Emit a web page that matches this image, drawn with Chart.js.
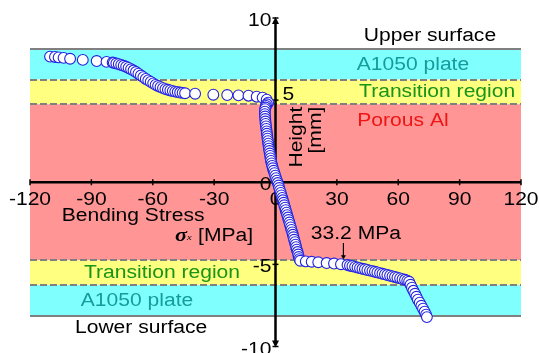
<!DOCTYPE html>
<html>
<head>
<meta charset="utf-8">
<script src="https://cdn.jsdelivr.net/npm/chart.js@4.4.1/dist/chart.umd.min.js"></script>
<style>
  body { margin: 0; background: #ffffff; }
  canvas { display: block; }
</style>
</head>
<body>
<canvas id="chart_stress" width="539" height="353"></canvas>
<script>
// axis ranges and ticks
var xTicks = [-120, -90, -60, -30, 0, 30, 60, 90, 120];
var yTicks = [-10, -5, 0, 5, 10];

// layer boundaries (height in mm)
var layerTop    = [8.12, 6.25, 4.75, -4.75, -6.25];
var layerBottom = [6.25, 4.75, -4.75, -6.25, -8.12];
var layerColor  = ['#80ffff', '#ffff80', '#ff9595', '#ffff80', '#80ffff'];
var surfaces = [8.12, -8.12];
var interfaces = [6.25, 4.75, -4.75, -6.25];

// stress marked with the arrow
var markStress = 33.2;

// upper plate + upper transition region
var upperStress = [
  -110.2, -107.8, -106.0, -103.6, -100.4, -94.2, -87.4, -82.6, -79.6,
  -79.0, -77.8, -76.6, -75.4, -74.2, -73.0, -71.8, -70.6, -69.4, -68.2,
  -67.0, -65.8, -64.6, -63.4, -62.2, -61.0, -59.8, -58.6, -57.4, -56.2,
  -55.0, -53.8, -52.6, -51.4, -50.2, -49.0, -47.8, -46.6, -45.4, -44.2,
  -39.3, -30.4, -23.6, -18.1, -13.2, -9.2, -6.3, -4.3, -3.6
];
var upperHeight = [
  7.65, 7.63, 7.60, 7.57, 7.52, 7.45, 7.38, 7.33, 7.29,
  7.27, 7.23, 7.19, 7.14, 7.09, 7.03, 6.96, 6.88, 6.80, 6.71,
  6.61, 6.50, 6.40, 6.29, 6.20, 6.11, 6.02, 5.93, 5.86, 5.79,
  5.73, 5.67, 5.63, 5.59, 5.55, 5.52, 5.49, 5.46, 5.44, 5.42,
  5.39, 5.33, 5.31, 5.29, 5.27, 5.21, 5.15, 5.03, 4.85
];

// porous Al core
var coreStress = [
  -4.2, -4.6, -4.9, -5.1, -5.2, -5.2, -5.1, -5.0, -4.9, -4.8,
  -4.6, -4.5, -4.3, -4.2, -4.0, -3.9, -3.7, -3.5, -3.4, -3.2,
  -3.0, -2.8, -2.6, -2.4, -2.2, -1.9, -1.6, -1.3, -0.9, -0.5,
  -0.1, 0.3, 0.7, 1.1, 1.5, 1.8, 2.2, 2.6, 2.9, 3.3,
  3.6, 4.0, 4.3, 4.7, 5.0, 5.4, 5.7, 6.1, 6.4, 6.8,
  7.1, 7.5, 7.8, 8.2, 8.5, 8.8, 9.1, 9.5, 9.8, 10.1,
  10.4, 10.8, 11.1, 11.4, 11.7, 12.1
];
var coreHeight = [
  4.75, 4.65, 4.55, 4.45, 4.30, 4.15, 4.00, 3.85, 3.70, 3.55,
  3.40, 3.25, 3.10, 2.95, 2.80, 2.65, 2.50, 2.35, 2.20, 2.05,
  1.90, 1.75, 1.60, 1.45, 1.30, 1.15, 1.00, 0.85, 0.70, 0.55,
  0.40, 0.25, 0.10, -0.05, -0.20, -0.35, -0.50, -0.65, -0.80, -0.95,
  -1.10, -1.25, -1.40, -1.55, -1.70, -1.85, -2.00, -2.15, -2.30, -2.45,
  -2.60, -2.75, -2.90, -3.05, -3.20, -3.35, -3.50, -3.65, -3.80, -3.95,
  -4.10, -4.25, -4.40, -4.55, -4.68, -4.78
];

// lower transition region + lower plate
var lowerStress = [
  14.8, 17.7, 20.9, 25.0, 28.6, 32.0, 35.2,
  36.4, 37.6, 38.9, 40.1, 41.3, 42.5, 43.7, 44.9, 46.2, 47.4, 48.6, 49.8,
  51.1, 52.3, 53.5, 54.7, 56.0, 57.2, 58.4, 59.6, 60.9, 62.1, 63.3, 64.4, 65.3,
  66.0, 66.7, 67.4, 68.2, 68.9, 69.6, 70.5, 71.3, 72.1, 72.9, 73.6, 74.0
];
var lowerHeight = [
  -4.82, -4.84, -4.87, -4.92, -4.95, -4.99, -5.04,
  -5.08, -5.11, -5.15, -5.19, -5.23, -5.27, -5.30, -5.34, -5.38, -5.41, -5.45, -5.49,
  -5.53, -5.57, -5.61, -5.65, -5.69, -5.73, -5.77, -5.81, -5.85, -5.90, -5.94, -5.99, -6.06,
  -6.24, -6.42, -6.61, -6.79, -6.97, -7.15, -7.33, -7.52, -7.70, -7.88, -8.06, -8.21
];

var FONT = '"Liberation Sans", Arial, sans-serif';
var STRETCH = 1.17;

function buildPoints(){
    var pts = [];
    var sx = upperStress.concat(coreStress).concat(lowerStress);
    var sy = upperHeight.concat(coreHeight).concat(lowerHeight);
    for (var i = 0; i < sx.length; i++) {
        pts.push({x: sx[i], y: sy[i]});
    }
    return pts;
}

// text a bit wider than the font, like the original figure
function wideText(ctx, txt, x, y, align, color, font, rot){
    ctx.save();
    ctx.translate(x, y);
    if (rot) ctx.rotate(rot);
    ctx.scale(STRETCH, 1);
    ctx.font = font || ('18px ' + FONT);
    ctx.textAlign = align || 'left';
    ctx.textBaseline = 'alphabetic';
    ctx.fillStyle = color || '#000000';
    ctx.fillText(txt, 0, 0);
    ctx.restore();
}

function hLine(ctx, xs, ys, v, dashed){
    var y = Math.round(ys.getPixelForValue(v));
    ctx.save();
    ctx.strokeStyle = '#808080';
    ctx.lineWidth = 2;
    if (dashed) ctx.setLineDash([7, 3]);
    ctx.beginPath();
    ctx.moveTo(xs.getPixelForValue(-120), y);
    ctx.lineTo(xs.getPixelForValue(120), y);
    ctx.stroke();
    ctx.restore();
}

var layerPlugin = {
    id: 'layers',
    beforeDatasetsDraw: function(chart){
        var ctx = chart.ctx;
        var xs = chart.scales.x, ys = chart.scales.y;
        var left = xs.getPixelForValue(-120), right = xs.getPixelForValue(120);

        // coloured layers
        for (var i = 0; i < layerTop.length; i++) {
            var t = ys.getPixelForValue(layerTop[i]);
            var b = ys.getPixelForValue(layerBottom[i]);
            ctx.fillStyle = layerColor[i];
            ctx.fillRect(left, t, right - left, b - t);
        }
        surfaces.forEach(function(v){ hLine(ctx, xs, ys, v, false); });
        interfaces.forEach(function(v){ hLine(ctx, xs, ys, v, true); });

        // layer names
        var X = function(v){ return xs.getPixelForValue(v); };
        var Y = function(v){ return ys.getPixelForValue(v); };
        wideText(ctx, 'Upper surface', X(75.5), Y(8.6), 'center', '#000000');
        wideText(ctx, 'A1050 plate', X(67.2), Y(6.85), 'center', '#149c9c');
        wideText(ctx, 'Transition region', X(79), Y(5.2), 'center', '#189418');
        wideText(ctx, 'Porous Al', X(62.3), Y(3.45), 'center', '#f01414');
        wideText(ctx, 'Transition region', X(-55.5), Y(-5.82), 'center', '#189418');
        wideText(ctx, 'A1050 plate', X(-67.7), Y(-7.52), 'center', '#149c9c');
        wideText(ctx, 'Lower surface', X(-65.7), Y(-9.2), 'center', '#000000');

        // axes
        var x0 = X(0), y0 = Y(0);
        ctx.save();
        ctx.strokeStyle = '#000000';
        ctx.fillStyle = '#000000';
        ctx.lineWidth = 2.5;
        ctx.beginPath();
        ctx.moveTo(left, y0);
        ctx.lineTo(right, y0);
        ctx.stroke();
        ctx.lineWidth = 1.5;
        xTicks.forEach(function(v){
            ctx.beginPath();
            ctx.moveTo(X(v), y0 - 3);
            ctx.lineTo(X(v), y0 + 3);
            ctx.stroke();
        });
        var top = Y(10), bottom = Y(-10);
        ctx.lineWidth = 2.5;
        ctx.beginPath();
        ctx.moveTo(x0, top + 3);
        ctx.lineTo(x0, bottom - 3);
        ctx.stroke();
        // arrow heads
        ctx.beginPath();
        ctx.moveTo(x0, top - 1); ctx.lineTo(x0 - 3.5, top + 6); ctx.lineTo(x0 + 3.5, top + 6);
        ctx.closePath(); ctx.fill();
        ctx.beginPath();
        ctx.moveTo(x0, bottom + 1); ctx.lineTo(x0 - 3.5, bottom - 6); ctx.lineTo(x0 + 3.5, bottom - 6);
        ctx.closePath(); ctx.fill();
        ctx.lineWidth = 1.5;
        yTicks.forEach(function(v){
            ctx.beginPath();
            ctx.moveTo(x0 - 3, Y(v));
            ctx.lineTo(x0 + 3, Y(v));
            ctx.stroke();
        });
        ctx.restore();

        // tick labels
        xTicks.forEach(function(v){
            wideText(ctx, String(v), X(v), y0 + 23, 'center', '#000000');
        });
        yTicks.forEach(function(v){
            if (v == 5) {
                wideText(ctx, String(v), x0 + 7, Y(v), 'left', '#000000');
            } else {
                wideText(ctx, String(v), x0 - 4, Y(v) + 8, 'right', '#000000');
            }
        });

        // axis titles
        wideText(ctx, 'Height', X(13.0), Y(4.6), 'right', '#000000', null, -Math.PI / 2);
        wideText(ctx, '[mm]', X(22.2), Y(4.6), 'right', '#000000', null, -Math.PI / 2);
        wideText(ctx, 'Bending Stress', X(-69.6), Y(-2.36), 'center', '#000000');
        var sx = X(-49.1), sy = Y(-3.58);
        wideText(ctx, '\u03c3', sx, sy, 'left', '#000000', 'bold italic 19px "Liberation Serif", serif');
        wideText(ctx, 'x', sx + 12, sy - 1, 'left', '#000000', 'italic 9px "Liberation Serif", serif');
        wideText(ctx, '[MPa]', sx + 23, sy, 'left', '#000000');

        // 33.2 MPa arrow
        var ax = X(markStress);
        wideText(ctx, markStress + ' MPa', X(39.3), Y(-3.45), 'center', '#000000');
        ctx.save();
        ctx.strokeStyle = '#000000';
        ctx.fillStyle = '#000000';
        ctx.lineWidth = 1.2;
        ctx.beginPath();
        ctx.moveTo(ax, Y(-3.7));
        ctx.lineTo(ax, Y(-4.55));
        ctx.stroke();
        ctx.beginPath();
        ctx.moveTo(ax, Y(-4.7)); ctx.lineTo(ax - 2.5, Y(-4.45)); ctx.lineTo(ax + 2.5, Y(-4.45));
        ctx.closePath(); ctx.fill();
        ctx.restore();
    }
};

var chartStress = new Chart(document.getElementById('chart_stress').getContext('2d'), {
    type: 'scatter',
    data: {
        datasets: [{
            label: 'Bending stress',
            data: buildPoints(),
            pointRadius: 5.4,
            pointBorderWidth: 1.1,
            pointBackgroundColor: '#ffffff',
            pointBorderColor: '#2222e0'
        }]
    },
    options: {
        responsive: false,
        animation: false,
        devicePixelRatio: 1,
        layout: { padding: { left: 30, right: 18, top: 18, bottom: 5 } },
        scales: {
            x: { type: 'linear', min: -120, max: 120, display: false },
            y: { type: 'linear', min: -10, max: 10, display: false }
        },
        plugins: {
            legend: { display: false },
            tooltip: { enabled: false }
        }
    },
    plugins: [layerPlugin]
});
</script>
</body>
</html>
